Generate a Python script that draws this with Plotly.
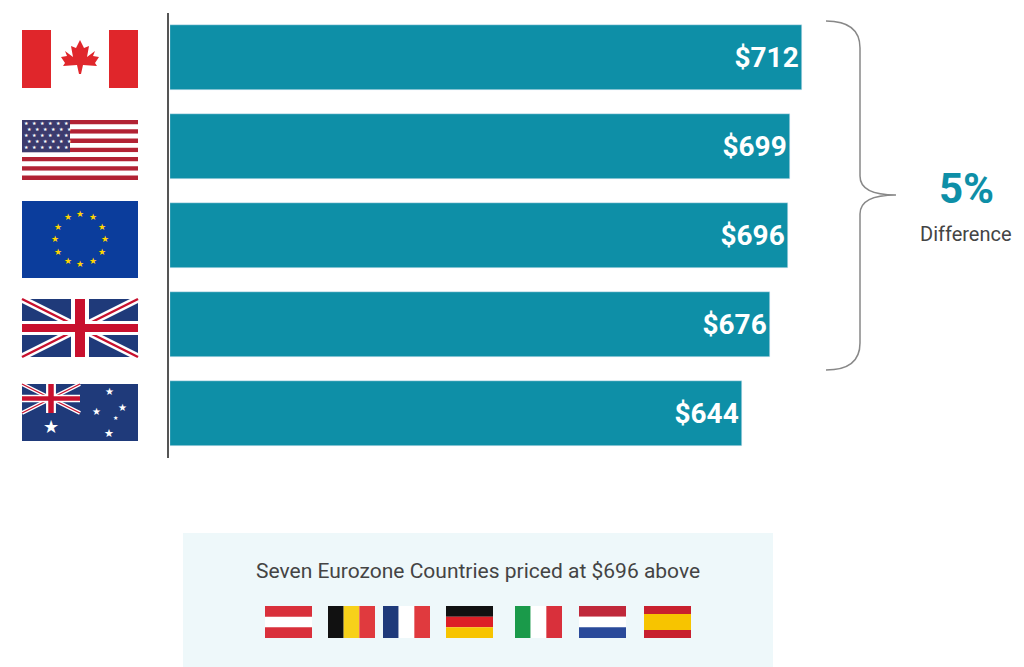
import math
import plotly.graph_objects as go

countries = ["Canada", "United States", "Eurozone", "United Kingdom", "Australia"]
prices = [712, 699, 696, 676, 644]
price_labels = ["$712", "$699", "$696", "$676", "$644"]
euro_flags = ["Austria", "Belgium", "France", "Germany", "Italy", "Netherlands", "Spain"]

BAR = "#0e8fa7"
W, H = 1024, 667

fig = go.Figure()
fig.add_trace(go.Bar(
    x=prices, y=countries, orientation="h", marker_color=BAR, width=0.73,
    text=["<b>" + t + "</b>" for t in price_labels], textposition="inside",
    insidetextanchor="end", textfont=dict(color="white", size=28, family="Roboto"),
    hoverinfo="skip",
))

shapes = []
annotations = []


def rect(x0, y0, x1, y1, color):
    shapes.append(dict(type="rect", xref="x2", yref="y2", x0=x0, y0=y0, x1=x1, y1=y1,
                       fillcolor=color, line_width=0, layer="above"))


def line(x0, y0, x1, y1, color, w):
    shapes.append(dict(type="line", xref="x2", yref="y2", x0=x0, y0=y0, x1=x1, y1=y1,
                       line=dict(color=color, width=w), layer="above"))


def stars(xs, ys, color, sizes):
    if not isinstance(sizes, list):
        sizes = [sizes] * len(xs)
    for x, y, s in zip(xs, ys, sizes):
        annotations.append(dict(x=x, y=y, xref="x2", yref="y2", text="★", showarrow=False,
                                font=dict(size=s, color=color, family="DejaVu Sans")))


def union_jack(x0, y0, x1, y1, s=1.0):
    rect(x0, y0, x1, y1, "#1f3a7a")
    line(x0, y0, x1, y1, "white", 7 * s)
    line(x0, y1, x1, y0, "white", 7 * s)
    line(x0, y0, x1, y1, "#c8102e", 2.5 * s)
    line(x0, y1, x1, y0, "#c8102e", 2.5 * s)
    cx, cy = (x0 + x1) / 2, (y0 + y1) / 2
    rect(x0, cy - 7 * s, x1, cy + 7 * s, "white")
    rect(cx - 9 * s, y0, cx + 9 * s, y1, "white")
    rect(x0, cy - 4 * s, x1, cy + 4 * s, "#c8102e")
    rect(cx - 5 * s, y0, cx + 5 * s, y1, "#c8102e")


# Canada
rect(14, 22, 130, 80, "white")
rect(14, 22, 43, 80, "#e0262b")
rect(101, 22, 130, 80, "#e0262b")
leaf = [(0, -20), (4, -12), (9, -14), (7, -3), (15, -9), (13, -4), (19, -3), (15, 3),
        (17, 6), (3, 5), (1, 14), (-1, 14), (-3, 5), (-17, 6), (-15, 3), (-19, -3),
        (-13, -4), (-15, -9), (-7, -3), (-9, -14), (-4, -12)]
path = "M " + " L ".join(f"{72 + px},{52 + py}" for px, py in leaf) + " Z"
shapes.append(dict(type="path", xref="x2", yref="y2", path=path, fillcolor="#e0262b",
                   line_width=0, layer="above"))

# United States
for i in range(13):
    rect(14, 112 + i * 60 / 13, 130, 112 + (i + 1) * 60 / 13, "#b22234" if i % 2 == 0 else "white")
rect(14, 112, 62, 112 + 7 * 60 / 13, "#3c3b6e")
sx, sy = [], []
for r in range(5):
    for c in range(6):
        sx.append(18 + c * 8 + (r % 2) * 3)
        sy.append(115 + r * 6)
stars(sx, sy, "white", 5)

# EU
rect(14, 193, 130, 270, "#0b3d9c")
stars([72 + 25 * math.sin(k * math.pi / 6) for k in range(12)],
      [231 - 25 * math.cos(k * math.pi / 6) for k in range(12)], "#ffd500", 9)

# UK
union_jack(14, 291, 130, 349)

# Australia
rect(14, 376, 130, 433, "#1f3a7a")
union_jack(14, 376, 72, 405, 0.55)
stars([43, 101, 88, 114, 101, 107], [418, 383, 403, 399, 425, 409], "white", [18, 10, 10, 10, 11, 6])

# bottom box
rect(175, 525, 765, 660, "#eef8fa")
fx = [257, 320, 375, 438, 507, 571, 636]
fw, fy0, fy1 = 47, 598, 630
h3 = (fy1 - fy0) / 3
for x in fx:
    rect(x, fy0, x + fw, fy1, "white")
rect(fx[0], fy0, fx[0] + fw, fy0 + h3, "#d9303b"); rect(fx[0], fy1 - h3, fx[0] + fw, fy1, "#d9303b")
for i, col in enumerate(["#111111", "#f7d11a", "#e03a3e"]):
    rect(fx[1] + i * fw / 3, fy0, fx[1] + (i + 1) * fw / 3, fy1, col)
for i, col in enumerate(["#1f3a7a", "white", "#e03a3e"]):
    rect(fx[2] + i * fw / 3, fy0, fx[2] + (i + 1) * fw / 3, fy1, col)
for i, col in enumerate(["#111111", "#dd1f26", "#f7c400"]):
    rect(fx[3], fy0 + i * h3, fx[3] + fw, fy0 + (i + 1) * h3, col)
for i, col in enumerate(["#1a9a4a", "white", "#d9303b"]):
    rect(fx[4] + i * fw / 3, fy0, fx[4] + (i + 1) * fw / 3, fy1, col)
for i, col in enumerate(["#c0283a", "white", "#2a4a9a"]):
    rect(fx[5], fy0 + i * h3, fx[5] + fw, fy0 + (i + 1) * h3, col)
rect(fx[6], fy0, fx[6] + fw, fy1, "#c8202e")
rect(fx[6], fy0 + 8, fx[6] + fw, fy1 - 8, "#f7c400")

# axis line and brace
line(160, 5, 160, 450, "#555555", 2)
shapes.append(dict(type="path", xref="x2", yref="y2", layer="above",
                   path="M 818,13 Q 852,13 852,40 L 852,168 Q 852,187 888,187 "
                        "Q 852,187 852,206 L 852,335 Q 852,362 818,362",
                   line=dict(color="#888888", width=1.5)))

annotations += [
    dict(x=958, y=180, xref="x2", yref="y2", text="<b>5%</b>", showarrow=False,
         font=dict(size=42, color=BAR, family="Roboto")),
    dict(x=958, y=226, xref="x2", yref="y2", text="Difference", showarrow=False,
         font=dict(size=20, color="#444444", family="Roboto")),
    dict(x=470, y=563, xref="x2", yref="y2", text="Seven Eurozone Countries priced at $696 above",
         showarrow=False, font=dict(size=21, color="#444444", family="Roboto")),
]

fig.update_layout(
    width=W, height=H, margin=dict(l=0, r=0, t=0, b=0),
    plot_bgcolor="rgba(0,0,0,0)", paper_bgcolor="white", showlegend=False,
    xaxis=dict(domain=[162 / W, 1], range=[0, 862 / (632 / 712)], visible=False, anchor="y"),
    yaxis=dict(domain=[(H - 450) / H, (H - 5) / H], autorange="reversed", visible=False, anchor="x"),
    xaxis2=dict(domain=[0, 1], range=[0, W], visible=False, anchor="y2"),
    yaxis2=dict(domain=[0, 1], range=[H, 0], visible=False, anchor="x2"),
    shapes=shapes, annotations=annotations, bargap=0,
)

fig.write_html("out.html")
